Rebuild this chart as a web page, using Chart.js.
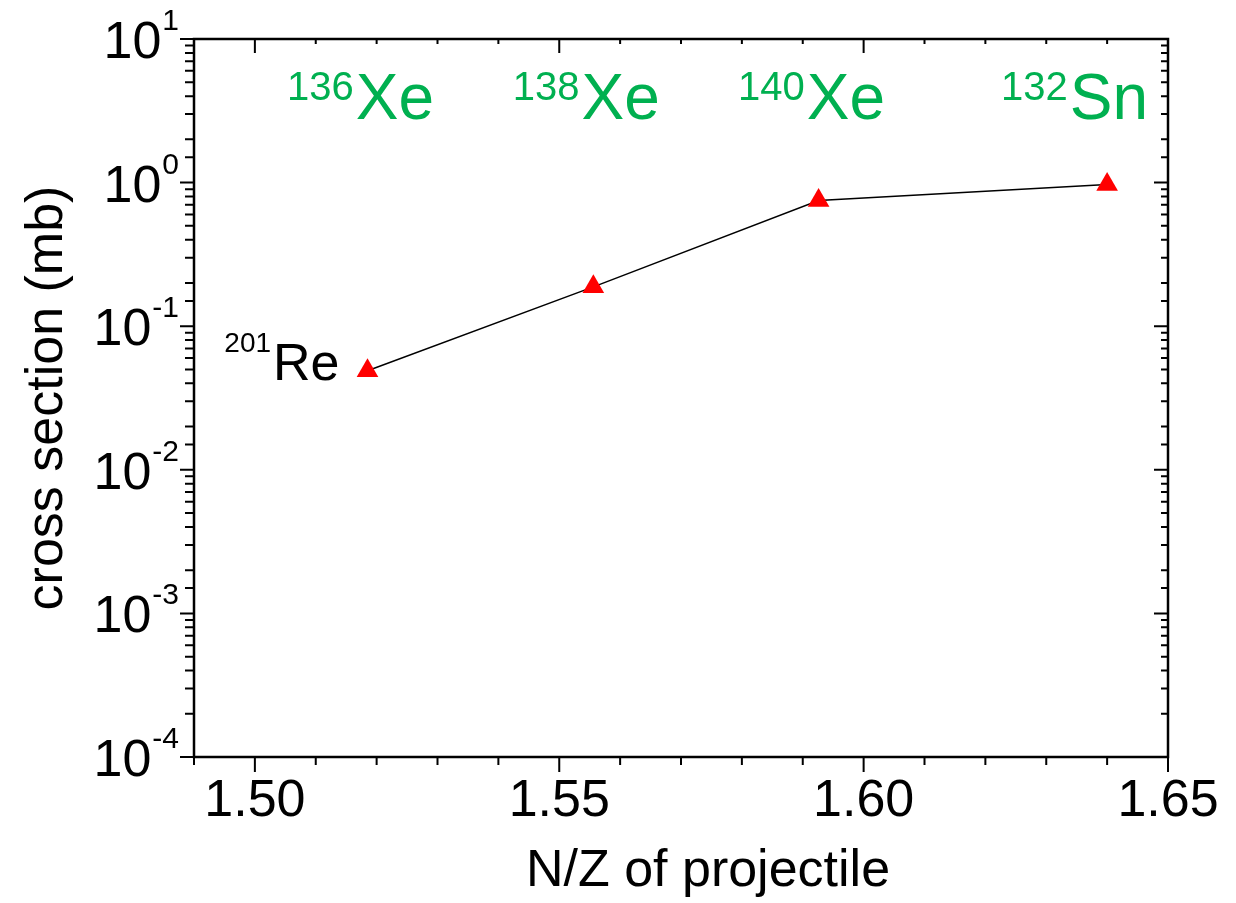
<!DOCTYPE html>
<html>
<head>
<meta charset="utf-8">
<script src="https://cdn.jsdelivr.net/npm/chart.js@4.4.1/dist/chart.umd.min.js"></script>
<style>
  html, body { margin:0; padding:0; background:#fff; }
</style>
</head>
<body>
<canvas id="chart" width="1236" height="903"></canvas>
<script>
// data
const nzProj   = [1.5185, 1.5556, 1.5926, 1.64];   // N/Z of projectile
const xsec     = [0.049, 0.188, 0.75, 0.97];        // cross section (mb)
const projMass = ["136", "138", "140", "132"];
const projSym  = ["Xe", "Xe", "Xe", "Sn"];
const fragMass = "201";
const fragSym  = "Re";
const xLabels  = ["1.50", "1.55", "1.60", "1.65"];
const yDecades = [-4, -3, -2, -1, 0, 1];

const FONT = '"Liberation Sans", Arial, sans-serif';
const GREEN = "#00b050";

// frame, ticks and all the text (superscripts need manual drawing)
const decor = {
  id: "decor",
  afterDraw(chart){
    const {ctx, chartArea:a, scales:{x, y}} = chart;
    ctx.save();
    ctx.strokeStyle = "#000";
    ctx.lineWidth = 2;
    ctx.lineCap = "butt";

    // y ticks: outward on the left, inward on the right
    y.ticks.forEach(t=>{
      const lg = Math.log10(t.value);
      const major = Math.abs(lg - Math.round(lg)) < 1e-6;
      const py = y.getPixelForValue(t.value);
      ctx.beginPath();
      ctx.moveTo(a.left - (major?14:9), py); ctx.lineTo(a.left, py);
      ctx.moveTo(a.right - (major?14:7), py); ctx.lineTo(a.right, py);
      ctx.stroke();
    });
    // x ticks: outward at bottom, inward at top
    x.ticks.forEach(t=>{
      const v = t.value;
      const major = Math.abs(v*20 - Math.round(v*20)) < 1e-6;
      const px = x.getPixelForValue(v);
      ctx.beginPath();
      ctx.moveTo(px, a.bottom); ctx.lineTo(px, a.bottom + (major?15:8));
      ctx.moveTo(px, a.top); ctx.lineTo(px, a.top + (major?14:5));
      ctx.stroke();
    });

    // frame
    ctx.lineWidth = 2.5;
    ctx.strokeRect(a.left, a.top, a.right - a.left, a.bottom - a.top);

    ctx.fillStyle = "#000";
    ctx.textBaseline = "alphabetic";

    // y tick labels 10^n
    yDecades.forEach(d=>{
      const py = y.getPixelForValue(Math.pow(10, d));
      ctx.textAlign = "right";
      ctx.font = "30px " + FONT;
      const sup = String(d);
      ctx.fillText(sup, 179, py - 9);
      const w = ctx.measureText(sup).width;
      ctx.font = "52px " + FONT;
      ctx.fillText("10", 179 - w - 1, py + 19);
    });

    // x tick labels
    ctx.textAlign = "center";
    ctx.font = "52px " + FONT;
    xLabels.forEach(s=>{
      ctx.fillText(s, x.getPixelForValue(parseFloat(s)), 816);
    });

    // axis titles
    ctx.fillText("N/Z of projectile", 708, 886);
    ctx.save();
    ctx.translate(62, 398);
    ctx.rotate(-Math.PI/2);
    ctx.fillText("cross section (mb)", 0, 0);
    ctx.restore();

    // projectile labels (green) above each point
    ctx.fillStyle = GREEN;
    ctx.textAlign = "left";
    nzProj.forEach((v,i)=>{
      ctx.font = "40px " + FONT;
      const w1 = ctx.measureText(projMass[i]).width;
      ctx.font = "64px " + FONT;
      const w2 = ctx.measureText(projSym[i]).width;
      const tot = w1 + 2 + w2;
      let cx = x.getPixelForValue(v) - 7;
      if (cx + tot/2 > a.right - 20) cx = a.right - 20 - tot/2;
      const x0 = cx - tot/2;
      ctx.font = "40px " + FONT;
      ctx.fillText(projMass[i], x0, 100);
      ctx.font = "64px " + FONT;
      ctx.fillText(projSym[i], x0 + w1 + 2, 119);
    });

    // fragment label left of first point
    ctx.fillStyle = "#000";
    ctx.textAlign = "right";
    const p0x = x.getPixelForValue(nzProj[0]);
    const p0y = y.getPixelForValue(xsec[0]);
    ctx.font = "52px " + FONT;
    const reRight = p0x - 28;
    ctx.fillText(fragSym, reRight, p0y + 9);
    const wRe = ctx.measureText(fragSym).width;
    ctx.font = "28px " + FONT;
    ctx.fillText(fragMass, reRight - wRe - 2, p0y - 19);

    ctx.restore();
  }
};

new Chart(document.getElementById("chart"), {
  type: "scatter",
  data: {
    datasets: [{
      data: nzProj.map((v,i)=>({x:v, y:xsec[i]})),
      showLine: true,
      borderColor: "#000",
      borderWidth: 1.5,
      pointStyle: "triangle",
      pointRadius: 12.5,
      pointBackgroundColor: "#ff0000",
      pointBorderColor: "#ff0000",
      pointBorderWidth: 0
    }]
  },
  options: {
    responsive: false,
    animation: false,
    devicePixelRatio: 1,
    layout: { padding: { left:194, top:39, right:68, bottom:146 } },
    plugins: { legend:{display:false}, tooltip:{enabled:false} },
    scales: {
      x: {
        type: "linear", min: 1.49, max: 1.65,
        grid: {display:false}, border: {display:false},
        ticks: {display:false, stepSize:0.01},
        afterFit: s=>{ s.height = 0; }
      },
      y: {
        type: "logarithmic", min: 1e-4, max: 10,
        grid: {display:false}, border: {display:false},
        ticks: {display:false},
        afterFit: s=>{ s.width = 0; }
      }
    }
  },
  plugins: [decor]
});
</script>
</body>
</html>
